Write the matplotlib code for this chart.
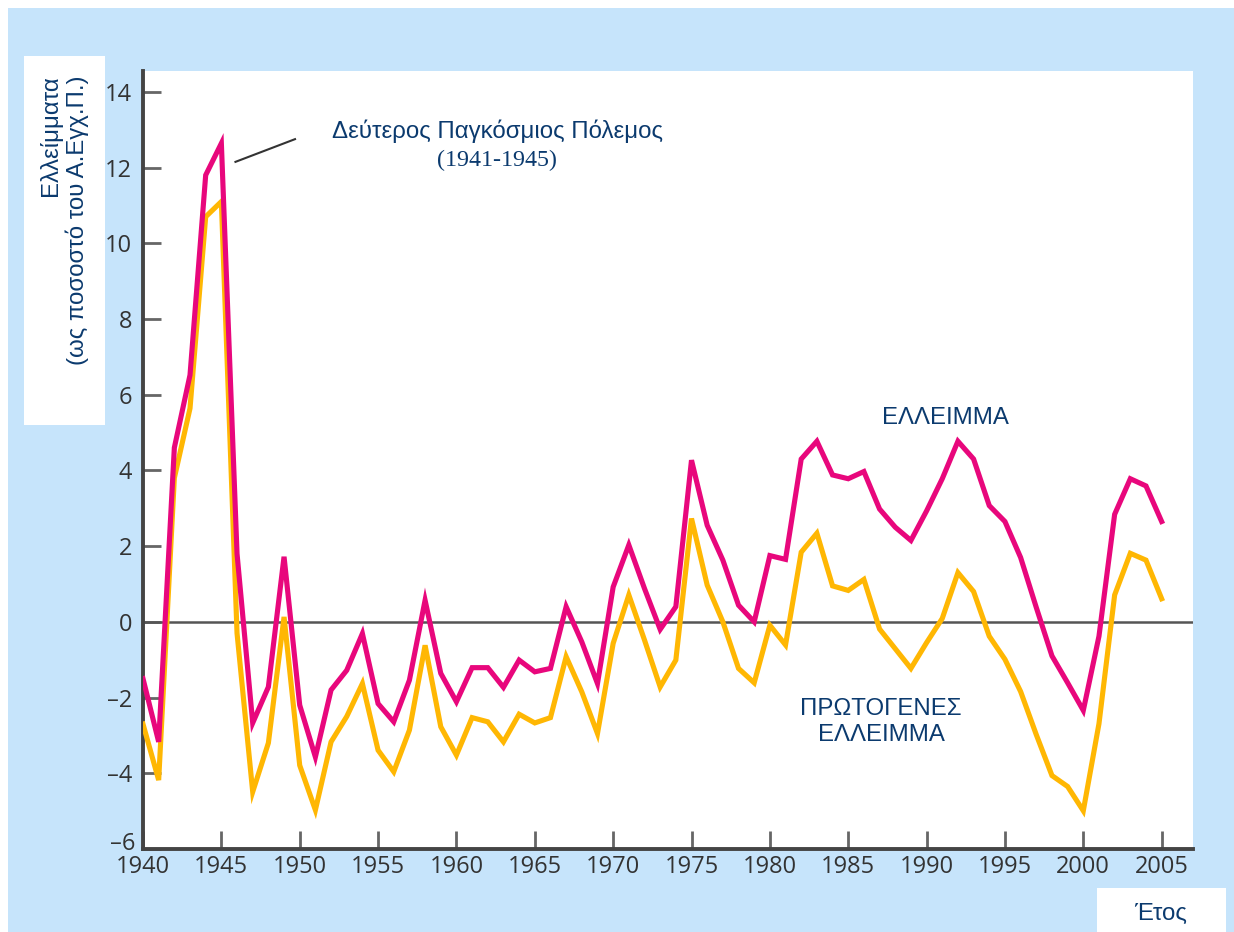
import matplotlib.pyplot as plt
import numpy as np
from matplotlib.patches import Rectangle

years = np.arange(1940, 2006)

# ΕΛΛΕΙΜΜΑ (% του Α.Εγχ.Π.)
deficit = [-1.5, -3.17, 4.6, 6.52, 11.8, 12.64, 1.8, -2.67, -1.72, 1.72,
           -2.2, -3.57, -1.8, -1.28, -0.31, -2.16, -2.64, -1.54, 0.57, -1.36,
           -2.11, -1.21, -1.21, -1.73, -1.01, -1.32, -1.23, 0.40, -0.53, -1.63,
           0.92, 2.03, 0.88, -0.2, 0.40, 4.27, 2.55, 1.63, 0.44, 0.0,
           1.75, 1.65, 4.30, 4.77, 3.88, 3.78, 3.97, 2.98, 2.50, 2.15,
           2.93, 3.78, 4.77, 4.30, 3.07, 2.65, 1.70, 0.38, -0.90, -1.61,
           -2.34, -0.38, 2.84, 3.78, 3.59, 2.65]

# ΠΡΩΤΟΓΕΝΕΣ ΕΛΛΕΙΜΜΑ
primary = [-2.7, -4.18, 3.8, 5.64, 10.7, 11.1, -0.3, -4.49, -3.2, 0.13,
           -3.79, -4.97, -3.17, -2.5, -1.63, -3.39, -3.96, -2.86, -0.62, -2.77,
           -3.52, -2.53, -2.64, -3.17, -2.44, -2.67, -2.53, -0.92, -1.85, -2.95,
           -0.57, 0.71, -0.48, -1.72, -1.01, 2.73, 0.97, 0.0, -1.23, -1.61,
           -0.09, -0.61, 1.84, 2.34, 0.95, 0.83, 1.12, -0.19, -0.71, -1.23,
           -0.55, 0.09, 1.30, 0.80, -0.38, -0.99, -1.84, -2.98, -4.06, -4.35,
           -4.99, -2.69, 0.71, 1.81, 1.63, 0.61]

xticks = np.arange(1940, 2006, 5)
yticks = np.arange(-6, 15, 2)

navy = '#0b3a6e'
fs = 17.3
W, H = 1234, 932
fig = plt.figure(figsize=(W / 100, H / 100), dpi=100)
fig.patch.set_facecolor('white')

# background layer: light blue panel + white boxes for the axis titles
bg = fig.add_axes([0, 0, 1, 1], zorder=-1)
bg.set_xlim(0, W)
bg.set_ylim(H, 0)
bg.axis('off')
bg.add_patch(Rectangle((8, 8), W - 8, H - 8, facecolor='#c6e4fb', edgecolor='none'))
bg.add_patch(Rectangle((24, 56), 81, 369, facecolor='white', edgecolor='none'))
bg.add_patch(Rectangle((1097, 888), 129, 44, facecolor='white', edgecolor='none'))
bg.text(64, 220, 'Ελλείμματα\n(ως ποσοστό του Α.Εγχ.Π.)', color=navy,
        fontsize=fs, family='Liberation Sans', rotation=90, ha='center', va='center',
        multialignment='right', linespacing=1.15)
bg.text(1161, 914, 'Έτος', color=navy, fontsize=fs,
        family='Liberation Sans', ha='center', va='center')

ax = fig.add_axes([143 / W, 1 - 849 / H, 1050 / W, 778 / H])
ax.set_facecolor('white')

ax.plot(years, deficit, color='#e8077c', lw=3.7, solid_joinstyle='miter', zorder=4)
ax.plot(years, primary, color='#ffb703', lw=3.7, solid_joinstyle='miter', zorder=3)
ax.axhline(0, color='#555555', lw=1.8, zorder=2)

ax.set_xlim(1940, 2007)
ax.set_ylim(-6, 14.55)
ax.set_xticks(xticks)
ax.set_yticks(yticks)
ylabels = [str(v).replace('-', '\u2013') for v in yticks]
# bottom label is drawn separately, nudged up off the x labels
ax.set_yticklabels([''] + ylabels[1:])
ax.annotate(ylabels[0], xy=(0, yticks[0]), xycoords=('axes fraction', 'data'),
            xytext=(-8, 5), textcoords='offset pixels', ha='right', va='center',
            fontsize=17, family='Open Sans', color='#333333')
ax.tick_params(direction='in', length=13, width=2, color='#666666',
               labelsize=17, labelcolor='#333333')
for lab in ax.get_xticklabels() + ax.get_yticklabels():
    lab.set_family('Open Sans')
ax.tick_params(axis='y', pad=8)
ax.tick_params(axis='x', pad=4)
for s in ['top', 'right']:
    ax.spines[s].set_visible(False)
for s in ['left', 'bottom']:
    ax.spines[s].set_color('#444444')
    ax.spines[s].set_linewidth(2.8)

# annotation
ax.plot([1945.9, 1949.7], [12.15, 12.75], color='#333333', lw=1.5)
ax.text(1962.6, 12.97, 'Δεύτερος Παγκόσμιος Πόλεμος', color=navy, fontsize=fs,
        family='Liberation Sans', ha='center', va='center')
ax.text(1962.6, 12.2, '(1941-1945)', color=navy, fontsize=fs,
        family='Liberation Serif', ha='center', va='center')

ax.text(1991.2, 5.38, 'ΕΛΛΕΙΜΜΑ', color=navy, fontsize=fs,
        family='Liberation Sans', ha='center', va='center')
ax.text(1987.1, -2.65, 'ΠΡΩΤΟΓΕΝΕΣ\nΕΛΛΕΙΜΜΑ', color=navy, fontsize=fs,
        family='Liberation Sans', ha='center', va='center', linespacing=1.2)

fig.savefig('out.png', dpi=100)
